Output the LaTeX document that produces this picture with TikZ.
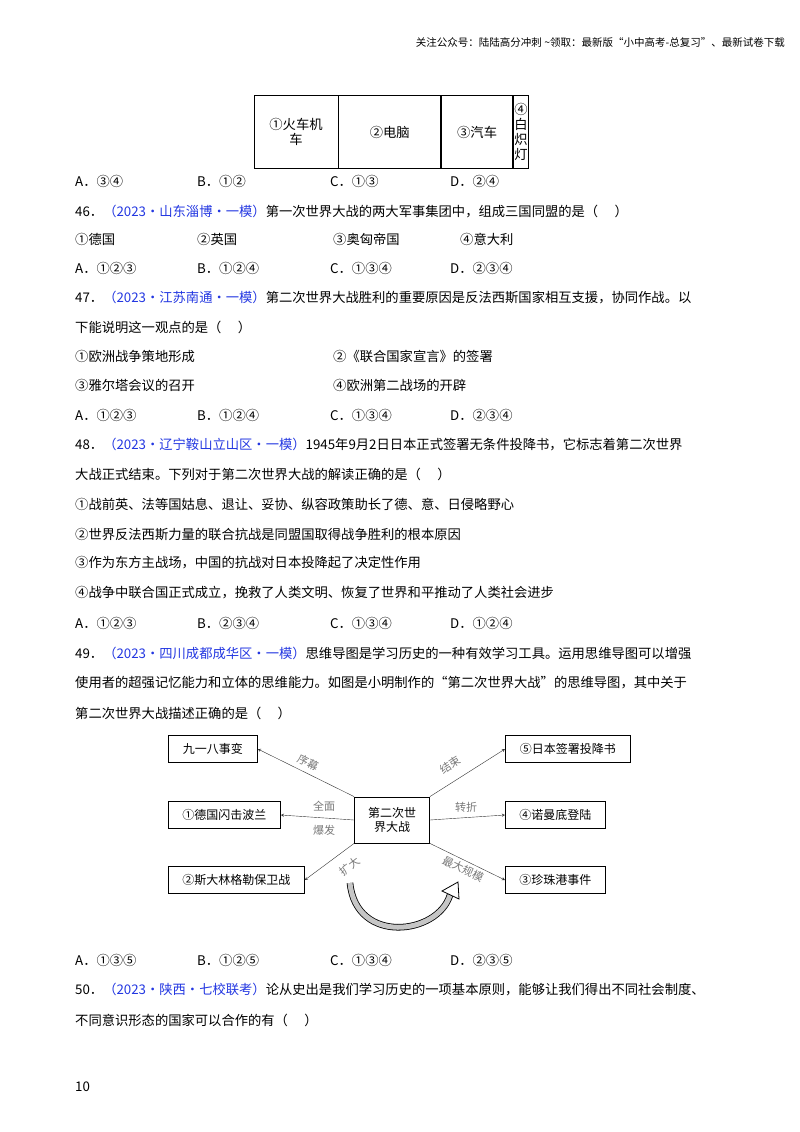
\documentclass[tikz,border=0pt]{standalone}
\usepackage{fontspec}
\setmainfont{Noto Sans CJK SC}
\usetikzlibrary{positioning}
\definecolor{srcblue}{RGB}{35,55,225}
\definecolor{lblgray}{RGB}{120,120,120}
\begin{document}
\begin{tikzpicture}[x=1pt, y=-1pt,
  txt/.style={anchor=west, inner sep=0pt, font=\fontsize{13.3}{16}\selectfont},
  src/.style={text=srcblue},
  cell/.style={draw, thick, minimum height=73pt, align=center, inner sep=1pt, font=\fontsize{13.3}{15}\selectfont},
  box/.style={draw, thick, minimum height=27pt, anchor=west, inner sep=4pt, font=\fontsize{12}{14}\selectfont},
  hub/.style={draw, thick, minimum width=75pt, minimum height=46pt, align=center, font=\fontsize{12}{14}\selectfont},
  lbl/.style={text=lblgray, font=\fontsize{11}{12}\selectfont, inner sep=0pt},
  link/.style={draw, gray!40!black, ->, >=stealth}]
  \useasboundingbox (0,0) rectangle (800,1132);

  \node[anchor=east, inner sep=0pt, font=\fontsize{10.5}{12}\selectfont] (head) at (785,43) {关注公众号：陆陆高分冲刺 \~{}领取：最新版“小中高考-总复习”、最新试卷下载};

  % table of inventions
  \node[cell, minimum width=84pt] (c1) at (296,132) {①火车机\\车};
  \node[cell, minimum width=102pt, right=0pt of c1] (c2) {②电脑};
  \node[cell, minimum width=71pt, right=0pt of c2] (c3) {③汽车};
  \node[cell, minimum width=14pt, right=0pt of c3] (c4) {④\\白\\炽\\灯};

  \node[txt] (a45) at (75,181) {A．③④};
  \node[txt] (b45) at (197,181) {B．①②};
  \node[txt] (c45) at (330,181) {C．①③};
  \node[txt] (d45) at (450,181) {D．②④};

  % question 46
  \node[txt] (q46) at (75,212) {46．\textcolor{srcblue}{（2023•山东淄博•一模）}第一次世界大战的两大军事集团中，组成三国同盟的是（\quad\ ）};
  \node[txt] (o46a) at (75,239) {①德国};
  \node[txt] (o46b) at (197,239) {②英国};
  \node[txt] (o46c) at (333,239) {③奥匈帝国};
  \node[txt] (o46d) at (460,239) {④意大利};
  \node[txt] (a46) at (75,268) {A．①②③};
  \node[txt] (b46) at (197,268) {B．①②④};
  \node[txt] (c46) at (330,268) {C．①③④};
  \node[txt] (d46) at (450,268) {D．②③④};

  % question 47
  \node[txt] (q47) at (75,298) {47．\textcolor{srcblue}{（2023•江苏南通•一模）}第二次世界大战胜利的重要原因是反法西斯国家相互支援，协同作战。以};
  \node[txt] (q47b) at (75,327) {下能说明这一观点的是（\quad\ ）};
  \node[txt] (o47a) at (75,356) {①欧洲战争策地形成};
  \node[txt] (o47b) at (333,356) {②《联合国家宣言》的签署};
  \node[txt] (o47c) at (75,385) {③雅尔塔会议的召开};
  \node[txt] (o47d) at (333,385) {④欧洲第二战场的开辟};
  \node[txt] (a47) at (75,415) {A．①②③};
  \node[txt] (b47) at (197,415) {B．①②④};
  \node[txt] (c47) at (330,415) {C．①③④};
  \node[txt] (d47) at (450,415) {D．②③④};

  % question 48
  \node[txt] (q48) at (75,445) {48．\textcolor{srcblue}{（2023•辽宁鞍山立山区•一模）}1945年9月2日日本正式签署无条件投降书，它标志着第二次世界};
  \node[txt] (q48b) at (75,474) {大战正式结束。下列对于第二次世界大战的解读正确的是（\quad\ ）};
  \node[txt] (o48a) at (75,504) {①战前英、法等国姑息、退让、妥协、纵容政策助长了德、意、日侵略野心};
  \node[txt] (o48b) at (75,534) {②世界反法西斯力量的联合抗战是同盟国取得战争胜利的根本原因};
  \node[txt] (o48c) at (75,563) {③作为东方主战场，中国的抗战对日本投降起了决定性作用};
  \node[txt] (o48d) at (75,593) {④战争中联合国正式成立，挽救了人类文明、恢复了世界和平推动了人类社会进步};
  \node[txt] (a48) at (75,623) {A．①②③};
  \node[txt] (b48) at (197,623) {B．②③④};
  \node[txt] (c48) at (330,623) {C．①③④};
  \node[txt] (d48) at (450,623) {D．①②④};

  % question 49
  \node[txt] (q49) at (75,653) {49．\textcolor{srcblue}{（2023•四川成都成华区•一模）}思维导图是学习历史的一种有效学习工具。运用思维导图可以增强};
  \node[txt] (q49b) at (75,683) {使用者的超强记忆能力和立体的思维能力。如图是小明制作的“第二次世界大战”的思维导图，其中关于};
  \node[txt] (q49c) at (75,713) {第二次世界大战描述正确的是（\quad\ ）};

  % mind map
  \node[hub] (war) at (392,820) {第二次世\\界大战};
  \node[box, minimum width=89pt] (jyb) at (168,749) {九一八事变};
  \node[box, minimum width=112pt] (pol) at (168,815) {①德国闪击波兰};
  \node[box, minimum width=136pt] (stl) at (168,880) {②斯大林格勒保卫战};
  \node[box, minimum width=125pt] (jap) at (505,749) {⑤日本签署投降书};
  \node[box, minimum width=100pt] (nmd) at (505,815) {④诺曼底登陆};
  \node[box, minimum width=100pt] (pea) at (505,880) {③珍珠港事件};

  \draw[link] (war.north west) -- (jyb.east);
  \draw[link] (war.west) -- (pol.east);
  \draw[link] (war.south west) -- (stl.east);
  \draw[link] (war.north east) -- (jap.west);
  \draw[link] (war.east) -- (nmd.west);
  \draw[link] (war.south east) -- (pea.west);

  \node[lbl, rotate=-26] (l1) at (308,763) {序幕};
  \node[lbl] (l2) at (324,806) {全面};
  \node[lbl] (l3) at (324,830) {爆发};
  \node[lbl, rotate=38] (l4) at (350,866) {扩大};
  \node[lbl, rotate=33] (l5) at (450,765) {结束};
  \node[lbl] (l6) at (466,807) {转折};
  \node[lbl, rotate=-26] (l7) at (463,869) {最大规模};

  \coordinate (cs) at (350,883);
  \coordinate (ce) at (450,895);
  \draw[double=gray!45, double distance=5pt, thick] (cs) .. controls (356,945) and (438,935) .. (ce);
  \draw[thick, fill=white] (442,891) -- (458,882) -- (459,899) -- cycle;

  \node[txt] (a49) at (75,960) {A．①③⑤};
  \node[txt] (b49) at (197,960) {B．①②⑤};
  \node[txt] (c49) at (330,960) {C．①③④};
  \node[txt] (d49) at (450,960) {D．②③⑤};

  % question 50
  \node[txt] (q50) at (75,990) {50．\textcolor{srcblue}{（2023•陕西•七校联考）}论从史出是我们学习历史的一项基本原则，能够让我们得出不同社会制度、};
  \node[txt] (q50b) at (75,1020) {不同意识形态的国家可以合作的有（\quad\ ）};

  \node[txt] (page) at (75,1087) {10};
\end{tikzpicture}
\end{document}
